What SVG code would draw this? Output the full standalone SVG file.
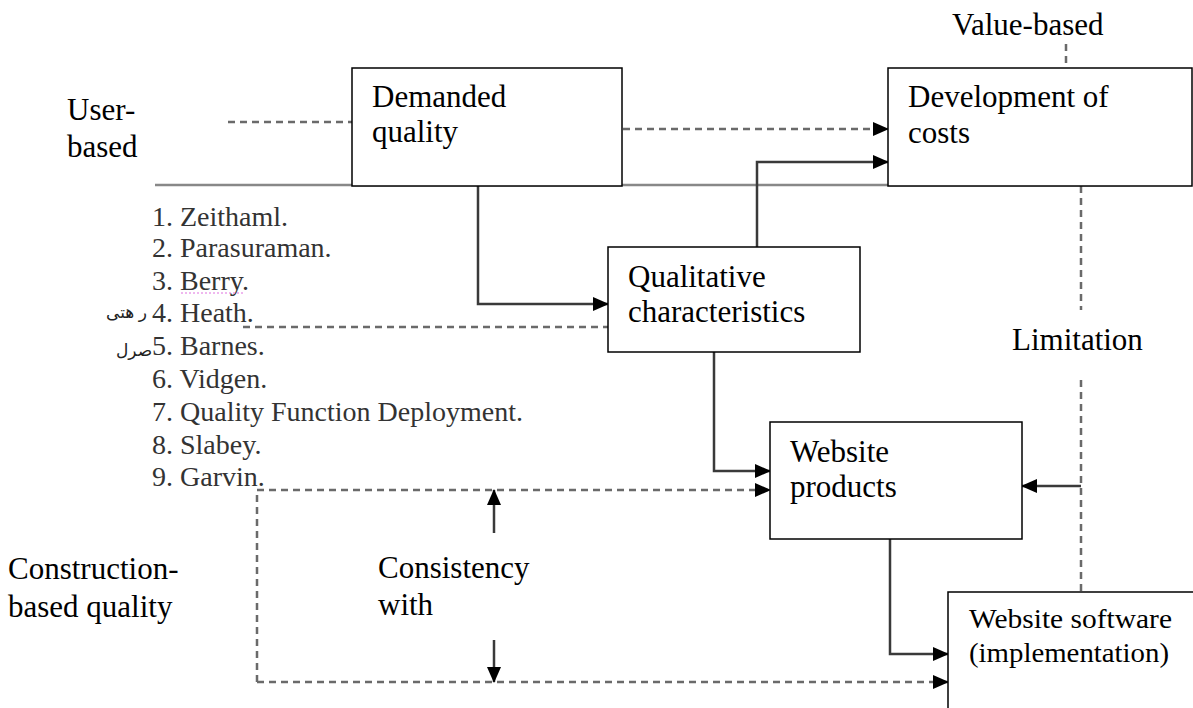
<svg xmlns="http://www.w3.org/2000/svg" width="1193" height="708" viewBox="0 0 1193 708">
<style>
.box{fill:#fff;stroke:#000;stroke-width:1.5}
.lbl{font-family:"Liberation Serif","Times New Roman",serif;font-size:31px;fill:#000}
.sm{font-family:"Liberation Serif","Times New Roman",serif;font-size:27px;fill:#000}
.lst{font-family:"Liberation Serif","Times New Roman",serif;font-size:28px;fill:#333}
.ar{font-family:"Noto Sans","DejaVu Sans",sans-serif;font-size:17px;fill:#222}
.sol{fill:none;stroke:#3a3a3a;stroke-width:2.5}
.das{fill:none;stroke:#6a6a6a;stroke-width:2.5;stroke-dasharray:7 5}
</style>
<defs>
<marker id="ah" markerUnits="userSpaceOnUse" markerWidth="16" markerHeight="14" refX="15" refY="7" orient="auto">
<path d="M0,0 L16,7 L0,14 Z" fill="#000"/>
</marker>
</defs>
<rect width="1193" height="708" fill="#fff"/>

<g id="separator">
<line x1="155" y1="185" x2="1130" y2="185" stroke="#888" stroke-width="2.5"/>
</g>

<g id="connectors">
<line class="das" x1="228" y1="122" x2="352" y2="122"/>
<line class="das" x1="623" y1="129" x2="888" y2="129" marker-end="url(#ah)"/>
<polyline class="sol" points="757,247 757,162 888,162" marker-end="url(#ah)"/>
<polyline class="sol" points="478,186 478,304 608,304" marker-end="url(#ah)"/>
<line class="das" x1="243" y1="327" x2="608" y2="327"/>
<polyline class="sol" points="714,352 714,471 770,471" marker-end="url(#ah)"/>
<line class="das" x1="1066" y1="44" x2="1066" y2="68"/>
<line class="das" x1="1081" y1="186" x2="1081" y2="310"/>
<line class="das" x1="1081" y1="380" x2="1081" y2="592"/>
<line class="sol" x1="1081" y1="486" x2="1022" y2="486" marker-end="url(#ah)"/>
<polyline class="sol" points="890,539 890,654 948,654" marker-end="url(#ah)"/>
<polyline class="das" points="257,682 257,490 770,490" marker-end="url(#ah)"/>
<line class="das" x1="257" y1="682" x2="948" y2="682" marker-end="url(#ah)"/>
<line class="sol" x1="494" y1="533" x2="494" y2="490" marker-end="url(#ah)"/>
<line class="sol" x1="494" y1="640" x2="494" y2="682" marker-end="url(#ah)"/>
</g>

<g id="demanded-quality">
<rect class="box" x="352" y="68" width="270" height="118"/>
<text class="lbl" x="372" y="107">Demanded</text>
<text class="lbl" x="372" y="142">quality</text>
</g>

<g id="development-of-costs">
<rect class="box" x="888" y="68" width="304" height="118"/>
<text class="lbl" x="908" y="107">Development of</text>
<text class="lbl" x="908" y="143">costs</text>
</g>

<g id="qualitative-characteristics">
<rect class="box" x="608" y="247" width="252" height="105"/>
<text class="lbl" x="628" y="287">Qualitative</text>
<text class="lbl" x="628" y="322">characteristics</text>
</g>

<g id="website-products">
<rect class="box" x="770" y="422" width="252" height="117"/>
<text class="lbl" x="790" y="462">Website</text>
<text class="lbl" x="790" y="497">products</text>
</g>

<g id="website-software">
<rect class="box" x="948" y="592" width="260" height="130"/>
<text class="sm" x="969" y="628" textLength="203" lengthAdjust="spacingAndGlyphs">Website software</text>
<text class="sm" x="969" y="662" textLength="200" lengthAdjust="spacingAndGlyphs">(implementation)</text>
</g>

<g id="labels">
<text class="lbl" x="952" y="35">Value-based</text>
<text class="lbl" x="67" y="120">User-</text>
<text class="lbl" x="67" y="157">based</text>
<text class="lbl" x="1012" y="350">Limitation</text>
<text class="lbl" x="8" y="579">Construction-</text>
<text class="lbl" x="8" y="617">based quality</text>
<text class="lbl" x="378" y="578">Consistency</text>
<text class="lbl" x="378" y="615">with</text>
</g>

<g id="author-list">
<text class="lst" x="152" y="226">1. Zeithaml.</text>
<text class="lst" x="152" y="257">2. Parasuraman.</text>
<text class="lst" x="152" y="290">3. Berry.</text>
<line x1="181" y1="293" x2="245" y2="293" stroke="#e070e0" stroke-width="1.2" stroke-dasharray="2 2"/>
<text class="lst" x="152" y="322">4. Heath.</text>
<text class="lst" x="152" y="355">5. Barnes.</text>
<text class="lst" x="152" y="388">6. Vidgen.</text>
<text class="lst" x="152" y="421">7. Quality Function Deployment.</text>
<text class="lst" x="152" y="454">8. Slabey.</text>
<text class="lst" x="152" y="486">9. Garvin.</text>
<text class="ar" x="106" y="318">ر هتی</text>
<text class="ar" x="116" y="356">صرل</text>
</g>
</svg>
